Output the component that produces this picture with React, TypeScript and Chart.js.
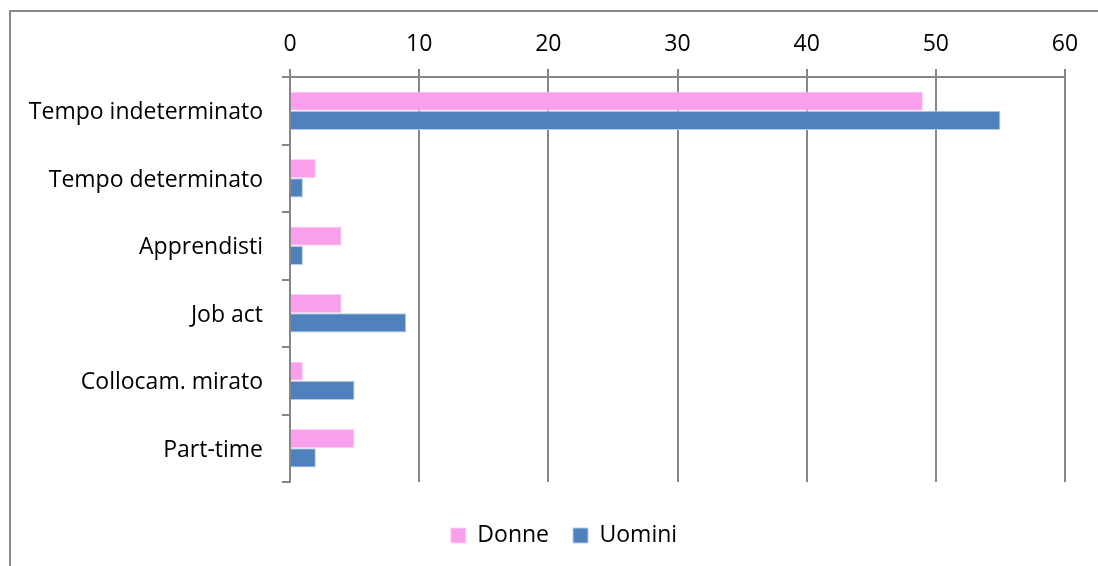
import React, { useEffect, useRef } from "react";
import { Chart, registerables } from "chart.js";

Chart.register(...registerables);

const categories = [
  "Tempo indeterminato",
  "Tempo determinato",
  "Apprendisti",
  "Job act",
  "Collocam. mirato",
  "Part-time",
];
const donne = [49, 2, 4, 4, 1, 5];
const uomini = [55, 1, 1, 9, 5, 2];
const xMin = 0;
const xMax = 60;
const xStep = 10;

const FONT = "'Open Sans'";
const FSIZE = 23;
const GRID = "#868686";
const LEGEND_CENTER = 564;

const shiftLegend = {
  id: "shiftLegend",
  afterLayout(chart: any) {
    const lg = chart.legend;
    if (!lg) return;
    const d = LEGEND_CENTER - (lg.left + lg.right) / 2;
    lg.left += d;
    lg.right += d;
  },
};

export default function App() {
  const ref = useRef<HTMLCanvasElement | null>(null);

  useEffect(() => {
    if (!ref.current) return;
    const chart = new Chart(ref.current, {
      type: "bar",
      data: {
        labels: categories,
        datasets: [
          {
            label: "Donne",
            data: donne,
            backgroundColor: "#F99FEB",
            borderColor: "#FCD4F5",
            borderWidth: 1,
            xAxisID: "x",
            categoryPercentage: 0.57,
            barPercentage: 1,
          },
          {
            label: "Uomini",
            data: uomini,
            backgroundColor: "#4F81BD",
            borderColor: "#B9CDE5",
            borderWidth: 1,
            xAxisID: "x",
            categoryPercentage: 0.57,
            barPercentage: 1,
          },
        ],
      },
      plugins: [shiftLegend],
      options: {
        indexAxis: "y",
        animation: false,
        responsive: false,
        maintainAspectRatio: false,
        layout: { padding: { left: 20, right: 33, top: 10, bottom: 9 } },
        scales: {
          x: {
            position: "top",
            min: xMin,
            max: xMax,
            ticks: {
              stepSize: xStep,
              color: "#000",
              font: { family: FONT, size: FSIZE },
              padding: 11,
            },
            grid: {
              color: GRID,
              lineWidth: 2,
              tickLength: 8,
              drawTicks: true,
            },
            border: { display: true, color: GRID, width: 2 },
            afterFit: (s: any) => {
              s.height = 67;
            },
          },
          x2: {
            position: "bottom",
            display: true,
            min: 0,
            max: 1,
            grid: { display: false },
            border: { display: false },
            ticks: { display: false },
            afterFit: (s: any) => {
              s.height = 18;
            },
          },
          y: {
            position: "left",
            ticks: {
              color: "#000",
              font: { family: FONT, size: FSIZE },
              padding: 19,
              labelOffset: 2,
            },
            grid: {
              color: GRID,
              lineWidth: 2,
              offset: true,
              drawOnChartArea: false,
              drawTicks: true,
              tickLength: 8,
            },
            border: { display: true, color: GRID, width: 2 },
            afterFit: (s: any) => {
              s.width = 270;
            },
          },
        },
        plugins: {
          legend: {
            position: "bottom",
            labels: {
              boxWidth: 15,
              boxHeight: 15,
              padding: 24,
              color: "#000",
              font: { family: FONT, size: FSIZE },
            },
          },
          tooltip: { enabled: false },
        },
      },
    });
    return () => chart.destroy();
  }, []);

  return (
    <div
      style={{
        position: "fixed",
        left: 0,
        top: 0,
        width: 1098,
        height: 566,
        overflow: "hidden",
        background: "#fff",
      }}
    >
      <div
        style={{
          position: "absolute",
          left: 9,
          top: 10,
          width: 1200,
          height: 700,
          border: "2px solid #898989",
          boxSizing: "border-box",
        }}
      />
      <canvas
        ref={ref}
        width={1098}
        height={566}
        style={{ position: "absolute", left: 0, top: 0, width: 1098, height: 566 }}
      />
    </div>
  );
}
